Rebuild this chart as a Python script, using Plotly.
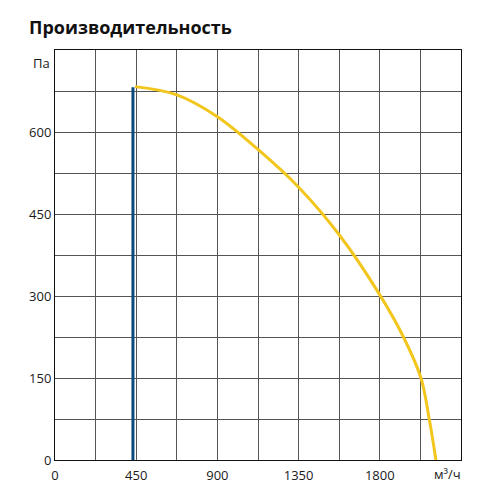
import plotly.graph_objects as go

title = "Производительность"
flow = [444, 675, 900, 1125, 1350, 1575, 1800, 1931, 2028, 2074, 2111]
pressure = [683, 668, 628, 568, 499, 412, 302, 225, 150, 75, 0]
op_x = [432, 432]
op_y = [0, 682]

x_ticks = [0, 225, 450, 675, 900, 1125, 1350, 1575, 1800, 2025, 2250]
x_labels = ["0", "", "450", "", "900", "", "1350", "", "1800", "", ""]
y_ticks = [0, 75, 150, 225, 300, 375, 450, 525, 600, 675, 750]
y_labels = ["0", "", "150", "", "300", "", "450", "", "600", "", ""]
x_unit = "м³/ч"
y_unit = "Па"

fig = go.Figure()
fig.add_trace(go.Scatter(x=flow, y=pressure, mode="lines",
                         line=dict(color="#f2c61c", width=3, shape="spline"),
                         hoverinfo="skip", showlegend=False))
fig.add_trace(go.Scatter(x=op_x, y=op_y, mode="lines",
                         line=dict(color="#0b4a7c", width=3),
                         hoverinfo="skip", showlegend=False))

tf = dict(family="Open Sans", size=13, color="#1a1a1a")
axis_common = dict(showgrid=True, gridcolor="#555555", gridwidth=1, automargin=False,
                   showline=True, linecolor="#111111", linewidth=1, mirror=True,
                   zeroline=False, ticks="", tickfont=tf)

fig.update_layout(
    width=492, height=492,
    margin=dict(l=47, r=39, t=42, b=40),
    paper_bgcolor="white", plot_bgcolor="white",
    xaxis=dict(range=[0, 2250], tickmode="array", tickvals=x_ticks, ticktext=x_labels,
               ticklabelstandoff=3, **axis_common),
    yaxis=dict(range=[0, 750], tickmode="array", tickvals=y_ticks, ticktext=y_labels, **axis_common),
    annotations=[
        dict(text="<b>" + title + "</b>", xref="paper", yref="paper",
             x=-28/406, y=1 + 23/410, xanchor="left", yanchor="middle",
             showarrow=False, font=dict(family="Open Sans", size=18, color="#111111")),
        dict(text=y_unit, xref="paper", yref="y", x=0, y=750, xanchor="right", yanchor="top",
             xshift=-3, yshift=-2, showarrow=False, font=tf),
        dict(text=x_unit, xref="x", yref="paper", x=2250, y=0, xanchor="right", yanchor="top",
             xshift=2, yshift=-3, showarrow=False, font=tf),
    ],
)
fig.write_html("out.html")
